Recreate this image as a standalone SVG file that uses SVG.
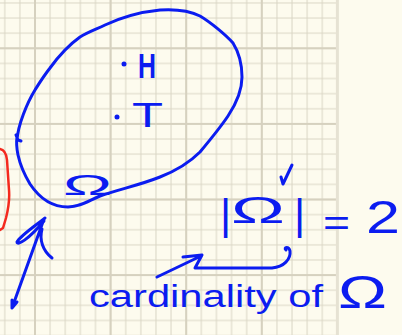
<svg xmlns="http://www.w3.org/2000/svg" width="402" height="335" viewBox="0 0 402 335">
<style>
.ink{fill:none;stroke:#0b1cf0;stroke-width:3;stroke-linecap:round;stroke-linejoin:round}
.red{fill:none;stroke:#f42a1e;stroke-width:2.5;stroke-linecap:round;stroke-linejoin:round}
.t{fill:#0b1cf0;font-family:"Liberation Sans",Arial,sans-serif}
</style>
<defs>
<pattern id="g" x="-2.8" y="-4.62" width="15.12" height="15.12" patternUnits="userSpaceOnUse"><path d="M7.56,0V15.12M0,7.56H15.12" stroke="#d9d5c4" stroke-width="1" fill="none"/></pattern>
<pattern id="G" x="-2.8" y="10.5" width="75.6" height="75.6" patternUnits="userSpaceOnUse"><path d="M37.8,0V75.6M0,37.8H75.6" stroke="#d6d1bf" stroke-width="2" fill="none"/></pattern>
</defs>
<rect width="402" height="335" fill="#fdfbee"/>
<rect width="337" height="335" fill="url(#g)"/>
<rect width="337" height="335" fill="url(#G)"/>
<line x1="337.4" y1="0" x2="337.4" y2="335" stroke="#e6e2d3" stroke-width="3"/>
<path class="red" d="M0,149 Q6,150 7,160 L9,190 Q10,202 6,218 L3,228 L0,230"/>
<g id="omega-set">
<path class="ink" d="M17,140 C18,125 27,103 35,90 C40,82 43,77 50,68 C58,57 66,47 80,37 C90,31 97,29 105,25 C120,18 140,12 160,10 C175,9 190,11 200,16 C210,22 225,34 233,43 C238,51 242,63 242,77 C242,92 236,104 228,116 C220,128 210,140 200,152 C190,162 178,170 160,177 C140,185 120,189 100,196 C88,201 80,207 68,207 C50,207 38,196 30,184 C24,174 20,164 18,155 C17,150 16,144 17,137 M16,135 L18,140 L21,141"/>
<text class="t" x="63" y="195" font-size="30" textLength="49" lengthAdjust="spacingAndGlyphs">Ω</text>
</g>
<g id="outcome-H">
<circle cx="124" cy="64" r="2.5" fill="#0b1cf0"/>
<text class="t" x="138" y="78" font-size="35" font-weight="bold" textLength="18" lengthAdjust="spacingAndGlyphs">H</text>
</g>
<g id="outcome-T">
<circle cx="117" cy="117" r="2.5" fill="#0b1cf0"/>
<text class="t" x="132" y="127" font-size="35" textLength="31" lengthAdjust="spacingAndGlyphs">T</text>
</g>
<g id="cardinality-eq">
<text class="t"><tspan x="220" y="229" font-size="43">|</tspan><tspan x="231" y="223" font-size="36" textLength="54" lengthAdjust="spacingAndGlyphs">Ω</tspan><tspan x="294" y="229" font-size="43">|</tspan> <tspan x="323" y="235" font-size="36" textLength="27" lengthAdjust="spacingAndGlyphs">=</tspan> <tspan x="366" y="233" font-size="46" textLength="34" lengthAdjust="spacingAndGlyphs">2</tspan></text>
<path class="ink" stroke-width="2" d="M281,177 L283,184 L292,165"/>
</g>
<g id="cardinality-label">
<text class="t" y="307"><tspan x="89" font-size="31" textLength="234" lengthAdjust="spacingAndGlyphs">cardinality of</tspan> <tspan x="338" y="308" font-size="47" textLength="49" lengthAdjust="spacingAndGlyphs">Ω</tspan></text>
</g>
<g id="connectors">
<path class="ink" d="M12,308 L44,219 M45,218 C35,226 20,236 17,242 C17,246 28,240 44,221 M42,229 C39,240 43,251 52,258 M12,300 L12,308 L17,302"/>
<path class="ink" d="M157,277 L201,256 M183,257 L202,255 L195,268 L272,268 C284,267 291,259 290,251 C289,246 283,247 286,250"/>
</g>
</svg>
